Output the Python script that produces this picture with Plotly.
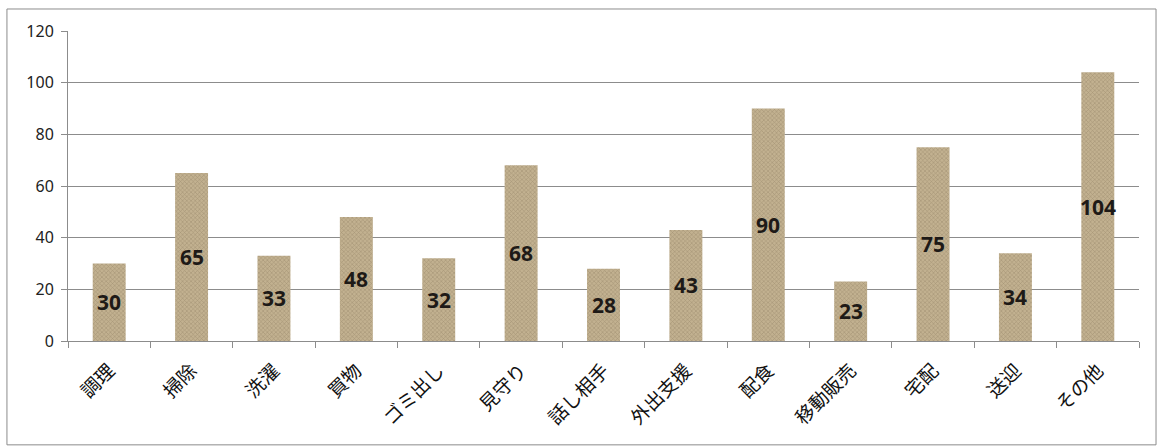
import plotly.graph_objects as go

categories = ["調理", "掃除", "洗濯", "買物", "ゴミ出し", "見守り", "話し相手", "外出支援", "配食", "移動販売", "宅配", "送迎", "その他"]
values = [30, 65, 33, 48, 32, 68, 28, 43, 90, 23, 75, 34, 104]
y_ticks = [0, 20, 40, 60, 80, 100, 120]

font_family = "Noto Sans CJK JP, Noto Sans, sans-serif"

fig = go.Figure(go.Bar(
    x=categories,
    y=values,
    width=0.4,
    marker=dict(
        color="#c2b190",
        line=dict(width=0),
        pattern=dict(shape="x", size=3, solidity=0.35, fgcolor="#85755a", fillmode="overlay"),
    ),
))

for c, v in zip(categories, values):
    fig.add_annotation(
        x=c, y=v / 2, text=str(v), showarrow=False,
        font=dict(size=21, color="#1e1a17", family="Noto Sans, sans-serif", weight="bold"),
    )

fig.update_layout(
    width=1159,
    height=446,
    margin=dict(l=68, r=20, t=31, b=105),
    paper_bgcolor="white",
    plot_bgcolor="white",
    showlegend=False,
    font=dict(family=font_family, color="#222"),
    xaxis=dict(
        type="category",
        tickangle=-45,
        tickson="boundaries",
        ticks="outside",
        ticklen=6,
        tickcolor="#8c8c8c",
        showline=True,
        linecolor="#8c8c8c",
        linewidth=1,
        showgrid=False,
        tickfont=dict(size=19, color="#111", family=font_family),
        ticklabelstandoff=10,
    ),
    yaxis=dict(
        range=[0, 120],
        tickvals=y_ticks,
        ticks="outside",
        ticklen=6,
        tickcolor="#8c8c8c",
        showline=True,
        linecolor="#8c8c8c",
        linewidth=1,
        showgrid=True,
        gridcolor="#8c8c8c",
        gridwidth=1,
        zeroline=False,
        tickfont=dict(size=16, color="#222", family="Noto Sans, sans-serif"),
        ticklabelstandoff=4,
    ),
    shapes=[dict(
        type="rect", xref="paper", yref="paper",
        x0=-0.057, x1=1.0159, y0=-0.335, y1=1.071,
        line=dict(color="#8c8c8c", width=1), fillcolor="rgba(0,0,0,0)", layer="below",
    )],
)

fig.write_html("out.html")
